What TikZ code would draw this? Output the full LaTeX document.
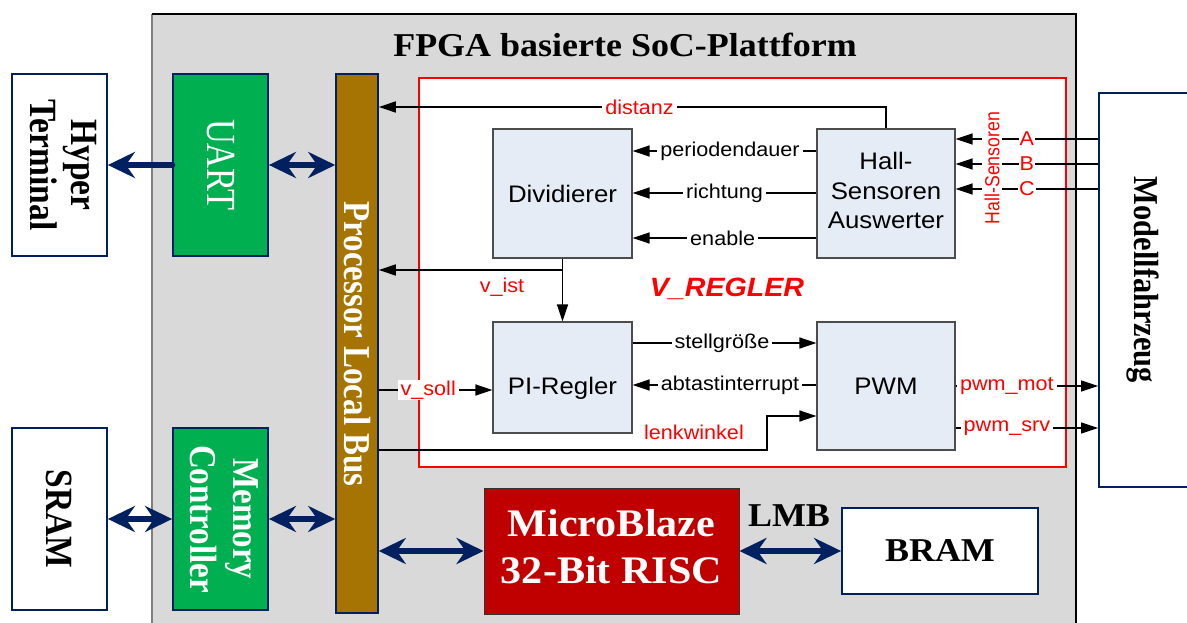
\documentclass[tikz,border=0pt]{standalone}
\usepackage{fontspec}
\setmainfont{Liberation Serif}
\newfontfamily\arialfam{Liberation Sans}
\usetikzlibrary{arrows.meta}

% text is set slightly wider / taller than the nominal font
\newcommand\widetxt[1]{\scalebox{1.08}[1]{#1}}
\newcommand\talltxt[1]{\scalebox{1}[1.15]{#1}}
\newcommand\linesof[1]{\begin{tabular}{@{}c@{}}#1\end{tabular}}

\definecolor{navy}{RGB}{0,32,96}
\definecolor{fpgagray}{RGB}{217,217,217}
\definecolor{ipgreen}{RGB}{0,176,80}
\definecolor{busbrown}{RGB}{166,116,2}
\definecolor{mbred}{RGB}{192,0,0}
\definecolor{blockfill}{RGB}{230,236,246}
\definecolor{sigred}{RGB}{255,0,0}

\begin{document}
\begin{tikzpicture}[x=1pt,y=-1pt,
  extbox/.style={draw=navy,line width=1.8pt,fill=white,inner sep=0pt},
  ipbox/.style={draw=navy,line width=1.8pt,fill=ipgreen,inner sep=0pt},
  busbox/.style={draw=navy,line width=1.6pt,fill=busbrown,inner sep=0pt},
  serifbold/.style={font=\bfseries\fontsize{33.5}{36}\selectfont,inner sep=0pt},
  block/.style={draw=black!70,line width=1.2pt,fill=blockfill,inner sep=0pt,
    font=\arialfam\fontsize{23.9}{29.5}\selectfont},
  blocktext/.style={font=\arialfam\fontsize{23.9}{29.5}\selectfont,inner sep=0pt},
  sig/.style={line width=1.5pt,-{Triangle[length=17pt,width=11pt]}},
  lbl/.style={fill=white,inner xsep=3pt,inner ysep=1pt,
    font=\arialfam\fontsize{20}{24}\selectfont},
  rlbl/.style={lbl,text=sigred},
  busboth/.style={navy,line width=6.5pt,>={Stealth[length=27pt,width=26pt,inset=9pt]},<->},
  busleft/.style={navy,line width=6.5pt,line cap=round,>={Stealth[length=27pt,width=26pt,inset=9pt]},->},
]
\useasboundingbox (0,0) rectangle (1187,623);
\fill[white] (0,0) rectangle (1187,623);

% FPGA platform background
\fill[fpgagray] (152,14) rectangle (1076,623);
\draw[black!50,line width=1.2pt] (152,623) -- (152,14);
\draw[line width=1.2pt] (152,14) -- (1076,14) -- (1076,623);
\node[anchor=base,font=\bfseries\fontsize{33.3}{38}\selectfont,inner sep=0pt] (title) at (625,57)
  {\widetxt{FPGA basierte SoC-Plattform}};

% external units
\node[extbox,minimum width=95pt,minimum height=182pt] (hyper) at (59.5,165) {};
\node[serifbold,rotate=-90] (hypertxt) at (hyper.center) {\talltxt{\linesof{Hyper\\Terminal}}};
\node[extbox,minimum width=95pt,minimum height=182pt] (sram) at (59.5,519) {};
\node[serifbold,rotate=-90] (sramtxt) at (sram.center) {\talltxt{SRAM}};
\node[extbox,minimum width=200pt,minimum height=394pt] (modell) at (1199,290) {};
\node[serifbold,font=\bfseries\fontsize{30.4}{34}\selectfont,rotate=-90] (modelltxt) at (1143,280)
  {\talltxt{Modellfahrzeug}};

% IP cores on the platform
\node[ipbox,minimum width=95pt,minimum height=182pt] (uart) at (220.5,165) {};
\node[rotate=-90,text=white,inner sep=0pt,font=\fontsize{34.5}{38}\selectfont] (uarttxt) at (uart.center)
  {\scalebox{1}[1.2]{UART}};
\node[ipbox,minimum width=95pt,minimum height=182pt] (mem) at (220.5,519) {};
\node[serifbold,text=white,rotate=-90,font=\bfseries\fontsize{33}{37}\selectfont] (memtxt) at (mem.center)
  {\talltxt{\linesof{Memory\\Controller}}};
\node[busbox,minimum width=42pt,minimum height=539pt] (plb) at (357,343.5) {};
\node[serifbold,font=\bfseries\fontsize{33}{37}\selectfont,text=white,rotate=-90] (plbtxt) at (357,344)
  {\talltxt{Processor Local Bus}};
\node[draw=black!80,line width=1pt,fill=mbred,minimum width=255pt,minimum height=126pt,inner sep=0pt,
  text=white,font=\bfseries\fontsize{39}{47}\selectfont] (mb) at (611.5,551)
  {\widetxt{\linesof{MicroBlaze\\32-Bit RISC}}};
\node[extbox,minimum width=196pt,minimum height=86pt,font=\bfseries\fontsize{33.3}{38}\selectfont] (bram)
  at (940,551) {\widetxt{BRAM}};

% bus connections
\draw[busleft] (uart.west) -- (hyper.east);
\draw[busboth] (uart.east) -- (plb.west |- uart.east);
\draw[busboth] (sram.east) -- (mem.west);
\draw[busboth] (mem.east) -- (plb.west |- mem.east);
\draw[busboth] (plb.east |- mb.west) -- (mb.west);
\draw[busboth] (mb.east) -- (bram.west);
\node[font=\bfseries\fontsize{33.3}{38}\selectfont,inner sep=0pt] (lmb) at (789,516) {\widetxt{LMB}};

% speed controller
\node[draw=sigred,line width=1.6pt,fill=white,minimum width=647pt,minimum height=389pt,inner sep=0pt]
  (vregler) at (742.5,272.5) {};
\node[anchor=base,text=sigred,inner sep=0pt,
  font=\arialfam\bfseries\itshape\fontsize{26.5}{30}\selectfont] (vtitle) at (727,296) {\widetxt{V\_REGLER}};

\node[block,minimum width=139pt,minimum height=129pt] (div) at (562.5,193.5) {\widetxt{Dividierer}};
\node[block,minimum width=138pt,minimum height=129pt] (hall) at (886,193.5)
  {\widetxt{\linesof{Hall-\\Sensoren\\Auswerter}}};
\node[block,minimum width=139pt,minimum height=111pt] (pi) at (562.5,377.5) {};
\node[blocktext] (pitxt) at (562.5,388.5) {\widetxt{PI-Regler}};
\node[block,minimum width=138pt,minimum height=128pt] (pwm) at (886,386) {\widetxt{PWM}};

% signals
\draw[sig] (hall.north) |- (plb.east |- 0,107) node[rlbl,pos=.743] {\widetxt{distanz}};
\draw[sig] (hall.west |- 0,151) -- (div.east |- 0,151) node[lbl,pos=.47] {\widetxt{periodendauer}};
\draw[sig] (hall.west |- 0,193) -- (div.east |- 0,193) node[lbl,pos=.5] {\widetxt{richtung}};
\draw[sig] (hall.west |- 0,238) -- (div.east |- 0,238) node[lbl,pos=.51] {\widetxt{enable}};
\draw[sig] (div.south) -- (pi.north);
\draw[sig] (div.south |- 0,270) -- (plb.east |- 0,270);
\node[text=sigred,inner sep=0pt,font=\arialfam\fontsize{20}{24}\selectfont] (vist) at (502,287) {\widetxt{v\_ist}};
\draw[sig] (pi.east |- 0,343) -- (pwm.west |- 0,343) node[lbl,pos=.486] {\widetxt{stellgröße}};
\draw[sig] (pwm.west |- 0,385) -- (pi.east |- 0,385) node[lbl,pos=.47] {\widetxt{abtastinterrupt}};
\draw[sig] (plb.east |- 0,390) -- (pi.west |- 0,390) node[rlbl,pos=.435] {\widetxt{v\_soll}};
\draw[sig] (plb.east |- 0,450) -- ++(388,0) |- (pwm.west |- 0,416);
\node[text=sigred,inner sep=0pt,font=\arialfam\fontsize{20}{24}\selectfont] (lenk) at (694,432)
  {\widetxt{lenkwinkel}};
\draw[sig] (pwm.east |- 0,386) -- (modell.west |- 0,386) node[rlbl,pos=.36] {\widetxt{pwm\_mot}};
\draw[sig] (pwm.east |- 0,428) -- (modell.west |- 0,428) node[rlbl,pos=.36] {\widetxt{pwm\_srv}};
\draw[sig] (modell.west |- 0,139) -- (hall.east |- 0,139) node[rlbl,inner xsep=1pt,pos=.5] {\widetxt{A}};
\draw[sig] (modell.west |- 0,164) -- (hall.east |- 0,164) node[rlbl,inner xsep=1pt,pos=.5] {\widetxt{B}};
\draw[sig] (modell.west |- 0,189) -- (hall.east |- 0,189) node[rlbl,inner xsep=1pt,pos=.5] {\widetxt{C}};
\node[rotate=90,fill=white,text=sigred,inner xsep=1pt,inner ysep=3pt,
  font=\arialfam\fontsize{17.7}{20}\selectfont] (hallsens) at (992,168) {\talltxt{Hall-Sensoren}};
\end{tikzpicture}
\end{document}
